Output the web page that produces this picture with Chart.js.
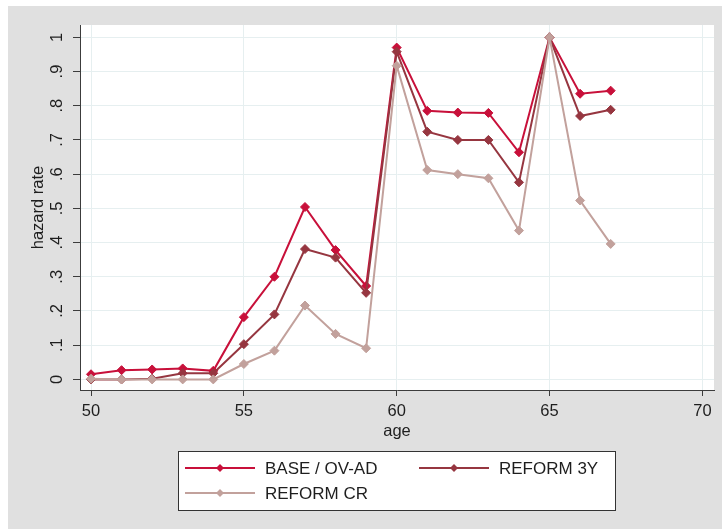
<!DOCTYPE html>
<html>
<head>
<meta charset="utf-8">
<script src="https://cdn.jsdelivr.net/npm/chart.js@4"></script>
<style>
  html, body { margin: 0; padding: 0; background: #ffffff; }
  #wrap { position: relative; width: 722px; height: 529px; }
</style>
</head>
<body>
<div id="wrap"><canvas id="hazardChart" width="722" height="529"></canvas></div>
<script>
// --- 1. Dados ---
const ages = [50, 51, 52, 53, 54, 55, 56, 57, 58, 59, 60, 61, 62, 63, 64, 65, 66, 67];
const baseOvAd = [0.015, 0.027, 0.029, 0.032, 0.025, 0.182, 0.300, 0.504, 0.378, 0.273, 0.970, 0.785, 0.780, 0.779, 0.664, 1.000, 0.835, 0.844];
const reform3y = [0.000, 0.000, 0.002, 0.018, 0.018, 0.103, 0.190, 0.381, 0.356, 0.253, 0.958, 0.724, 0.700, 0.700, 0.576, 1.000, 0.770, 0.788];
const reformCr = [0.002, 0.000, 0.000, 0.000, 0.000, 0.045, 0.084, 0.216, 0.133, 0.091, 0.917, 0.612, 0.600, 0.588, 0.435, 1.000, 0.523, 0.396];

const seriesLabels = ['BASE / OV-AD', 'REFORM 3Y', 'REFORM CR'];
const xTicks = [50, 55, 60, 65, 70];
const yTicks = [0, 0.1, 0.2, 0.3, 0.4, 0.5, 0.6, 0.7, 0.8, 0.9, 1];
const yTickLabels = ['0', '.1', '.2', '.3', '.4', '.5', '.6', '.7', '.8', '.9', '1'];

// --- 2. Cores e fonte ---
const colorBase = '#c8103a';
const color3y = '#963640';
const colorCr = '#c2a19c';
const colorText = '#1e1e1e';
const colorAxis = '#3c3c3c';
const colorGrid = '#e6eff0';
const colorOuter = '#e0e0e0';
const fontFamily = '"Liberation Sans", Arial, sans-serif';

Chart.defaults.font.family = fontFamily;
Chart.defaults.font.size = 16.5;
Chart.defaults.color = colorText;

const toPoints = (vals) => ages.map((a, i) => ({ x: a, y: vals[i] }));

function makeDataset(label, vals, color, order) {
    return {
        label: label, data: toPoints(vals), borderColor: color, backgroundColor: color,
        borderWidth: 2, pointStyle: 'rectRot', pointRadius: 4.5, pointBorderWidth: 1,
        pointBackgroundColor: color, pointBorderColor: color, tension: 0, order: order
    };
}

// Fundo cinza externo + área branca do gráfico
const backgroundPlugin = {
    id: 'stataBackground',
    beforeDraw(chart) {
        const { ctx, chartArea } = chart;
        ctx.save();
        ctx.fillStyle = colorOuter;
        ctx.fillRect(8, 6, chart.width - 8, chart.height - 6);
        ctx.fillStyle = '#ffffff';
        ctx.fillRect(chartArea.left, chartArea.top, chartArea.right - chartArea.left, chartArea.bottom - chartArea.top);
        ctx.restore();
    }
};

// Rótulos do eixo y girados (estilo Stata) e legenda em caixa
const decorPlugin = {
    id: 'stataDecor',
    afterDraw(chart) {
        const { ctx } = chart;
        const yScale = chart.scales.y;
        ctx.save();
        ctx.fillStyle = colorText;
        ctx.font = '16.5px ' + fontFamily;
        ctx.textAlign = 'center';
        ctx.textBaseline = 'alphabetic';
        yTicks.forEach((v, i) => {
            ctx.save();
            ctx.translate(62, yScale.getPixelForValue(v));
            ctx.rotate(-Math.PI / 2);
            ctx.fillText(yTickLabels[i], 0, 0);
            ctx.restore();
        });

        // caixa da legenda
        ctx.fillStyle = '#ffffff';
        ctx.fillRect(178, 451, 437, 59);
        ctx.strokeStyle = '#333333';
        ctx.lineWidth = 1;
        ctx.strokeRect(178.5, 451.5, 437, 59);

        const slots = [
            { x: 185, y: 468 },
            { x: 419, y: 468 },
            { x: 185, y: 493 }
        ];
        chart.data.datasets.forEach((ds, i) => {
            const s = slots[i];
            ctx.strokeStyle = ds.borderColor;
            ctx.lineWidth = 2;
            ctx.beginPath();
            ctx.moveTo(s.x, s.y);
            ctx.lineTo(s.x + 70, s.y);
            ctx.stroke();
            ctx.fillStyle = ds.borderColor;
            ctx.beginPath();
            ctx.moveTo(s.x + 35, s.y - 4);
            ctx.lineTo(s.x + 39, s.y);
            ctx.lineTo(s.x + 35, s.y + 4);
            ctx.lineTo(s.x + 31, s.y);
            ctx.closePath();
            ctx.fill();
            ctx.fillStyle = colorText;
            ctx.textAlign = 'left';
            ctx.textBaseline = 'middle';
            ctx.font = '17px ' + fontFamily;
            ctx.fillText(ds.label, s.x + 80, s.y + 1);
        });
        ctx.restore();
    }
};

// --- 3. Gráfico ---
const ctx = document.getElementById('hazardChart').getContext('2d');
const myChart = new Chart(ctx, {
    type: 'line',
    data: {
        datasets: [
            makeDataset(seriesLabels[0], baseOvAd, colorBase, 2),
            makeDataset(seriesLabels[1], reform3y, color3y, 1),
            makeDataset(seriesLabels[2], reformCr, colorCr, 0)
        ]
    },
    options: {
        responsive: false, animation: false, devicePixelRatio: 1,
        layout: { padding: { left: 0, top: 25, right: 8, bottom: 79 } },
        plugins: { legend: { display: false }, tooltip: { enabled: false } },
        scales: {
            x: {
                type: 'linear', min: 49.64, max: 70.38,
                afterBuildTicks: (scale) => { scale.ticks = xTicks.map(v => ({ value: v })); },
                afterFit: (scale) => { scale.height = 60; },
                grid: { color: colorGrid, tickColor: colorAxis, tickLength: 6, drawOnChartArea: true },
                border: { color: colorAxis, width: 1 },
                ticks: { color: colorText, padding: 6, maxRotation: 0, font: { size: 16.5 } },
                title: { display: true, text: 'age', color: colorText, font: { size: 16.5 }, padding: { top: 0, bottom: 9 } }
            },
            y: {
                type: 'linear', min: -0.031, max: 1.036,
                afterBuildTicks: (scale) => { scale.ticks = yTicks.map(v => ({ value: v })); },
                afterFit: (scale) => { scale.width = 80; },
                grid: { color: colorGrid, tickColor: colorAxis, tickLength: 7 },
                border: { color: colorAxis, width: 1 },
                ticks: { display: false },
                title: { display: true, text: 'hazard rate', color: colorText, font: { size: 16.5 }, padding: { top: 29, bottom: 0 } }
            }
        }
    },
    plugins: [backgroundPlugin, decorPlugin]
});
</script>
</body>
</html>
